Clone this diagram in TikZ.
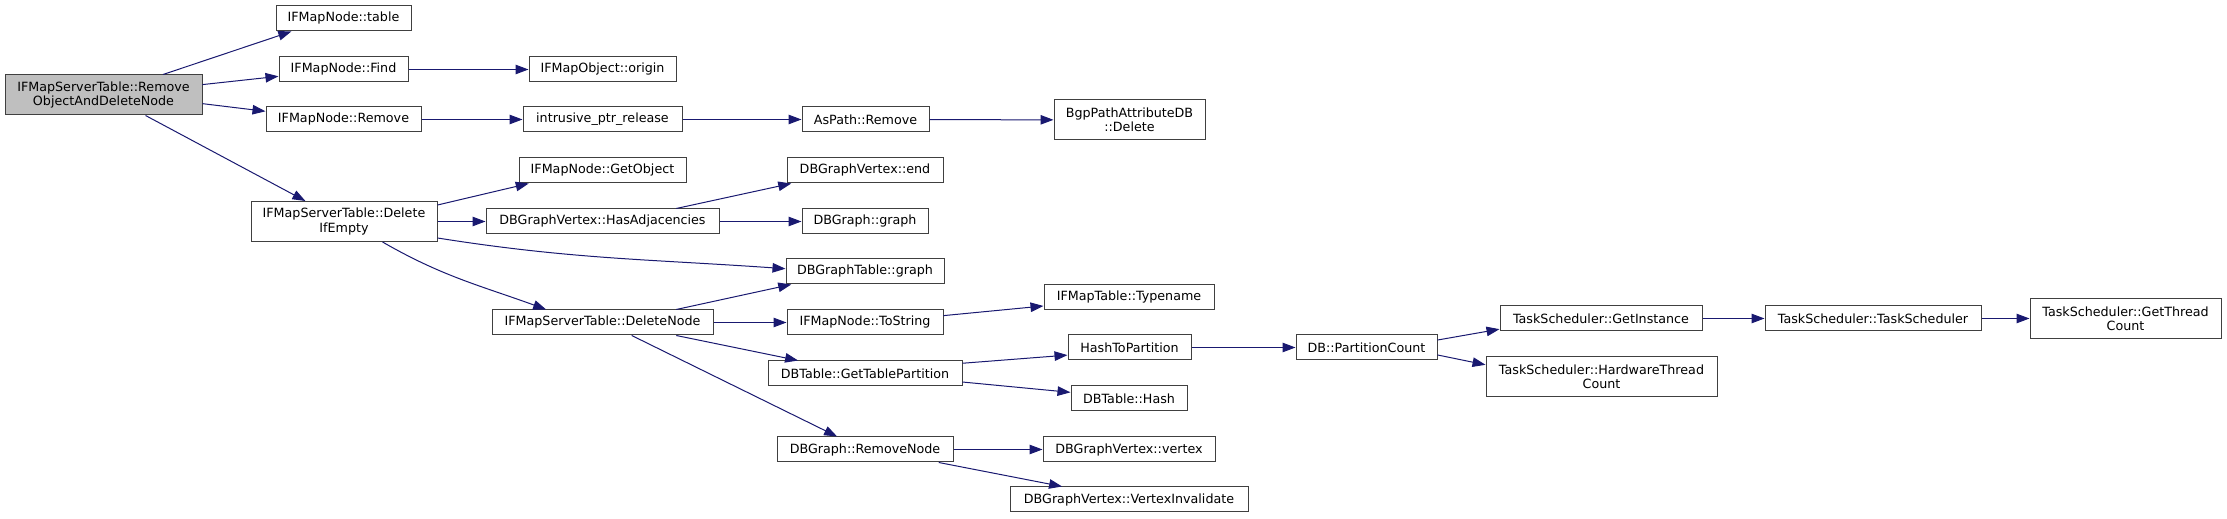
\documentclass[tikz,border=0pt]{standalone}
\usepackage{fontspec}
\setmainfont{DejaVu Sans}
\usetikzlibrary{arrows.meta}
\definecolor{edgeblue}{HTML}{191970}
\definecolor{boxgrey}{HTML}{404040}
\definecolor{rootgrey}{HTML}{BFBFBF}

\begin{document}
\begin{tikzpicture}[
                x=1pt, y=1pt,
                fn/.style={draw=boxgrey, fill=white, line width=1pt, inner sep=0pt,
                    minimum height=25pt, align=center,
                    font=\fontsize{12.7}{14.2}\selectfont},
                fntwo/.style={fn, minimum height=40pt},
                call/.style={draw=edgeblue, line width=1pt,
                    -{Triangle[length=13pt,width=9.5pt]}}
            ]
                \useasboundingbox (0,0) rectangle (2227,519);

                \node[fntwo, fill=rootgrey, minimum width=197pt] (root) at (103.5,424) {IFMapServerTable::Remove\\ObjectAndDeleteNode};
                \node[fn, minimum width=135pt] (table) at (343.5,500.5) {IFMapNode::table};
                \node[fn, minimum width=129pt] (find) at (343.5,449.5) {IFMapNode::Find};
                \node[fn, minimum width=155pt] (remove) at (343.5,399.5) {IFMapNode::Remove};
                \node[fntwo, minimum width=186pt] (delifempty) at (344,297.5) {IFMapServerTable::Delete\\IfEmpty};

                \node[fn, minimum width=147pt] (origin) at (602.5,449.5) {IFMapObject::origin};
                \node[fn, minimum width=159pt] (ptrrel) at (602.5,399.5) {intrusive\_ptr\_release};
                \node[fn, minimum width=167pt] (getobj) at (602.5,348.5) {IFMapNode::GetObject};
                \node[fn, minimum width=233pt] (hasadj) at (602.5,297.5) {DBGraphVertex::HasAdjacencies};
                \node[fn, minimum width=221pt] (delnode) at (602.5,196.5) {IFMapServerTable::DeleteNode};

                \node[fn, minimum width=127pt] (aspath) at (865.5,399.5) {AsPath::Remove};
                \node[fn, minimum width=156pt] (vend) at (865,348.5) {DBGraphVertex::end};
                \node[fn, minimum width=126pt] (dbgraph) at (865,297.5) {DBGraph::graph};
                \node[fn, minimum width=158pt] (gtgraph) at (865,247.5) {DBGraphTable::graph};
                \node[fn, minimum width=156pt] (tostring) at (865,196.5) {IFMapNode::ToString};
                \node[fn, minimum width=194pt] (gettp) at (865,145.5) {DBTable::GetTablePartition};
                \node[fn, minimum width=176pt] (rmnode) at (865,69.5) {DBGraph::RemoveNode};

                \node[fntwo, minimum width=151pt] (bgpdel) at (1129.5,399) {BgpPathAttributeDB\\::Delete};
                \node[fn, minimum width=170pt] (typename) at (1129,222) {IFMapTable::Typename};
                \node[fn, minimum width=123pt] (htop) at (1129.5,171.5) {HashToPartition};
                \node[fn, minimum width=116pt] (hash) at (1129,120.5) {DBTable::Hash};
                \node[fn, minimum width=172pt] (vertex) at (1129,69.5) {DBGraphVertex::vertex};
                \node[fn, minimum width=238pt] (vinval) at (1129,19.5) {DBGraphVertex::VertexInvalidate};

                \node[fn, minimum width=141pt] (pcount) at (1366.5,171.5) {DB::PartitionCount};
                \node[fn, minimum width=202pt] (getinst) at (1601,200.5) {TaskScheduler::GetInstance};
                \node[fntwo, minimum width=231pt] (hwtc) at (1601.5,142) {TaskScheduler::HardwareThread\\Count};
                \node[fn, minimum width=216pt] (tsched) at (1873,200.5) {TaskScheduler::TaskScheduler};
                \node[fntwo, minimum width=191pt] (gtc) at (2125.5,200.5) {TaskScheduler::GetThread\\Count};

                % calls
                \draw[call] (root.19.5) -- (table.-166.1);
                \draw[call] (root.6.4) -- (find.186.6);
                \draw[call] (root.-5.8) -- (remove.174.5);
                \draw[call] (root.-26.9) -- (delifempty.152.9);
                \draw[call] (find) -- (origin);
                \draw[call] (remove) -- (ptrrel);
                \draw[call] (ptrrel) -- (aspath);
                \draw[call] (aspath) -- (bgpdel);
                \draw[call] (delifempty.10.95) -- (getobj.190.8);
                \draw[call] (delifempty) -- (hasadj);
                \draw[call] (delifempty.-10.95) to[out=-9, in=176] (gtgraph.178.2);
                \draw[call] (delifempty.-28.4) to[out=-30, in=160] (delnode.167.3);
                \draw[call] (hasadj.10.5) -- (vend.190.6);
                \draw[call] (hasadj) -- (dbgraph);
                \draw[call] (delnode.10.5) -- (gtgraph.190.6);
                \draw[call] (delnode) -- (tostring);
                \draw[call] (delnode.-10.5) -- (gettp.169.4);
                \draw[call] (delnode.-24.4) -- (rmnode.155.2);
                \draw[call] (tostring.5.5) -- (typename.186);
                \draw[call] (gettp.6.2) -- (htop.187);
                \draw[call] (gettp.-5.6) -- (hash.174.6);
                \draw[call] (htop) -- (pcount);
                \draw[call] (rmnode) -- (vertex);
                \draw[call] (rmnode.-10.6) -- (vinval.169.4);
                \draw[call] (pcount.6.9) -- (getinst.186.5);
                \draw[call] (pcount.-6.9) -- (hwtc.174.1);
                \draw[call] (getinst) -- (tsched);
                \draw[call] (tsched) -- (gtc);
\end{tikzpicture}
\end{document}
